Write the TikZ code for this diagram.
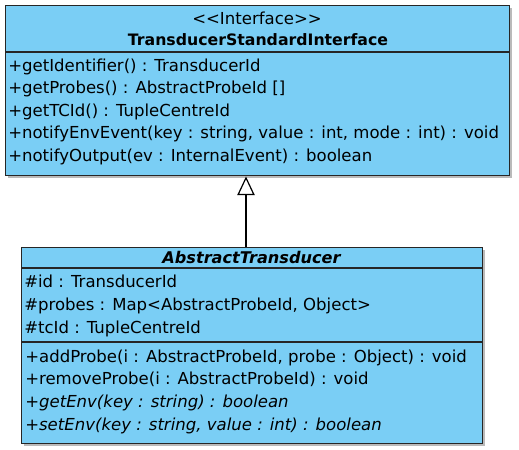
\documentclass[tikz,border=0pt]{standalone}
\usepackage{fontspec}
\setmainfont{DejaVu Sans}
\usetikzlibrary{arrows.meta,shadows}
\definecolor{umlblue}{RGB}{122,206,245}
\tikzset{
  classbox/.style={draw=black!85,fill=umlblue,line width=1.1pt,inner sep=0pt,
    drop shadow={shadow xshift=1.4pt,shadow yshift=-1.4pt,fill=black!45,opacity=0.6}},
  member/.style={anchor=base west,inner sep=0pt,font=\fontsize{12.4}{14}\selectfont},
  title/.style={anchor=base,inner sep=0pt,font=\fontsize{12.4}{14}\selectfont},
  sepline/.style={draw=black!85,line width=1.1pt},
}

\begin{document}
\begin{tikzpicture}[x=0.75pt,y=-0.75pt]
\useasboundingbox (0,0) rectangle (519,450);

%% interface
\node [classbox,anchor=north west,minimum width=378pt,minimum height=127.5pt] (iface) at (5,5) {};
\draw [sepline] (5,52) -- (509,52);  %%title line
\node [title] (ifstereo) at (257,24) {{<}{<}Interface{>}{>}};
\node [title,font=\fontsize{11.8}{14}\selectfont\bfseries] (ifname) at (258,45.5) {TransducerStandardInterface};
\node [member] (ifmA) at (8,71.5) {+getIdentifier() : TransducerId};
\node [member] (ifmB) at (8,93.8) {+getProbes() : AbstractProbeId []};
\node [member] (ifmC) at (8,116.2) {+getTCId() : TupleCentreId};
\node [member] (ifmD) at (8,138.6) {+notifyEnvEvent(key : string, value : int, mode : int) : void};
\node [member] (ifmE) at (8,161) {+notifyOutput(ev : InternalEvent) : boolean};

%% abstract class
\node [classbox,anchor=north west,minimum width=345.75pt,minimum height=147pt] (abst) at (21,247) {};
\draw [sepline] (21,268) -- (482,268);  %%title line
\draw [sepline] (21,342) -- (482,342);  %%attribute line
\node [title,font=\fontsize{12.1}{14}\selectfont\bfseries\itshape] (abname) at (251.5,263) {AbstractTransducer};
\node [member] (abaA) at (24,287.8) {\#id : TransducerId};
\node [member] (abaB) at (24,310.4) {\#probes : Map{<}AbstractProbeId, Object{>}};
\node [member] (abaC) at (24,333) {\#tcId : TupleCentreId};
\node [member] (abmA) at (25,362.2) {+addProbe(i : AbstractProbeId, probe : Object) : void};
\node [member] (abmB) at (25,384.8) {+removeProbe(i : AbstractProbeId) : void};
\node [member,font=\fontsize{12.4}{14}\selectfont\itshape] (abmC) at (25,407.4) {+getEnv(key : string) : boolean};
\node [member,font=\fontsize{12.4}{14}\selectfont\itshape] (abmD) at (25,430) {+setEnv(key : string, value : int) : boolean};

%% generalisation
\draw [-{Triangle[open,length=14pt,width=13pt]},line width=0.9pt] (abst.north -| 246,0) -- (iface.south -| 246,0);

\end{tikzpicture}
\end{document}
